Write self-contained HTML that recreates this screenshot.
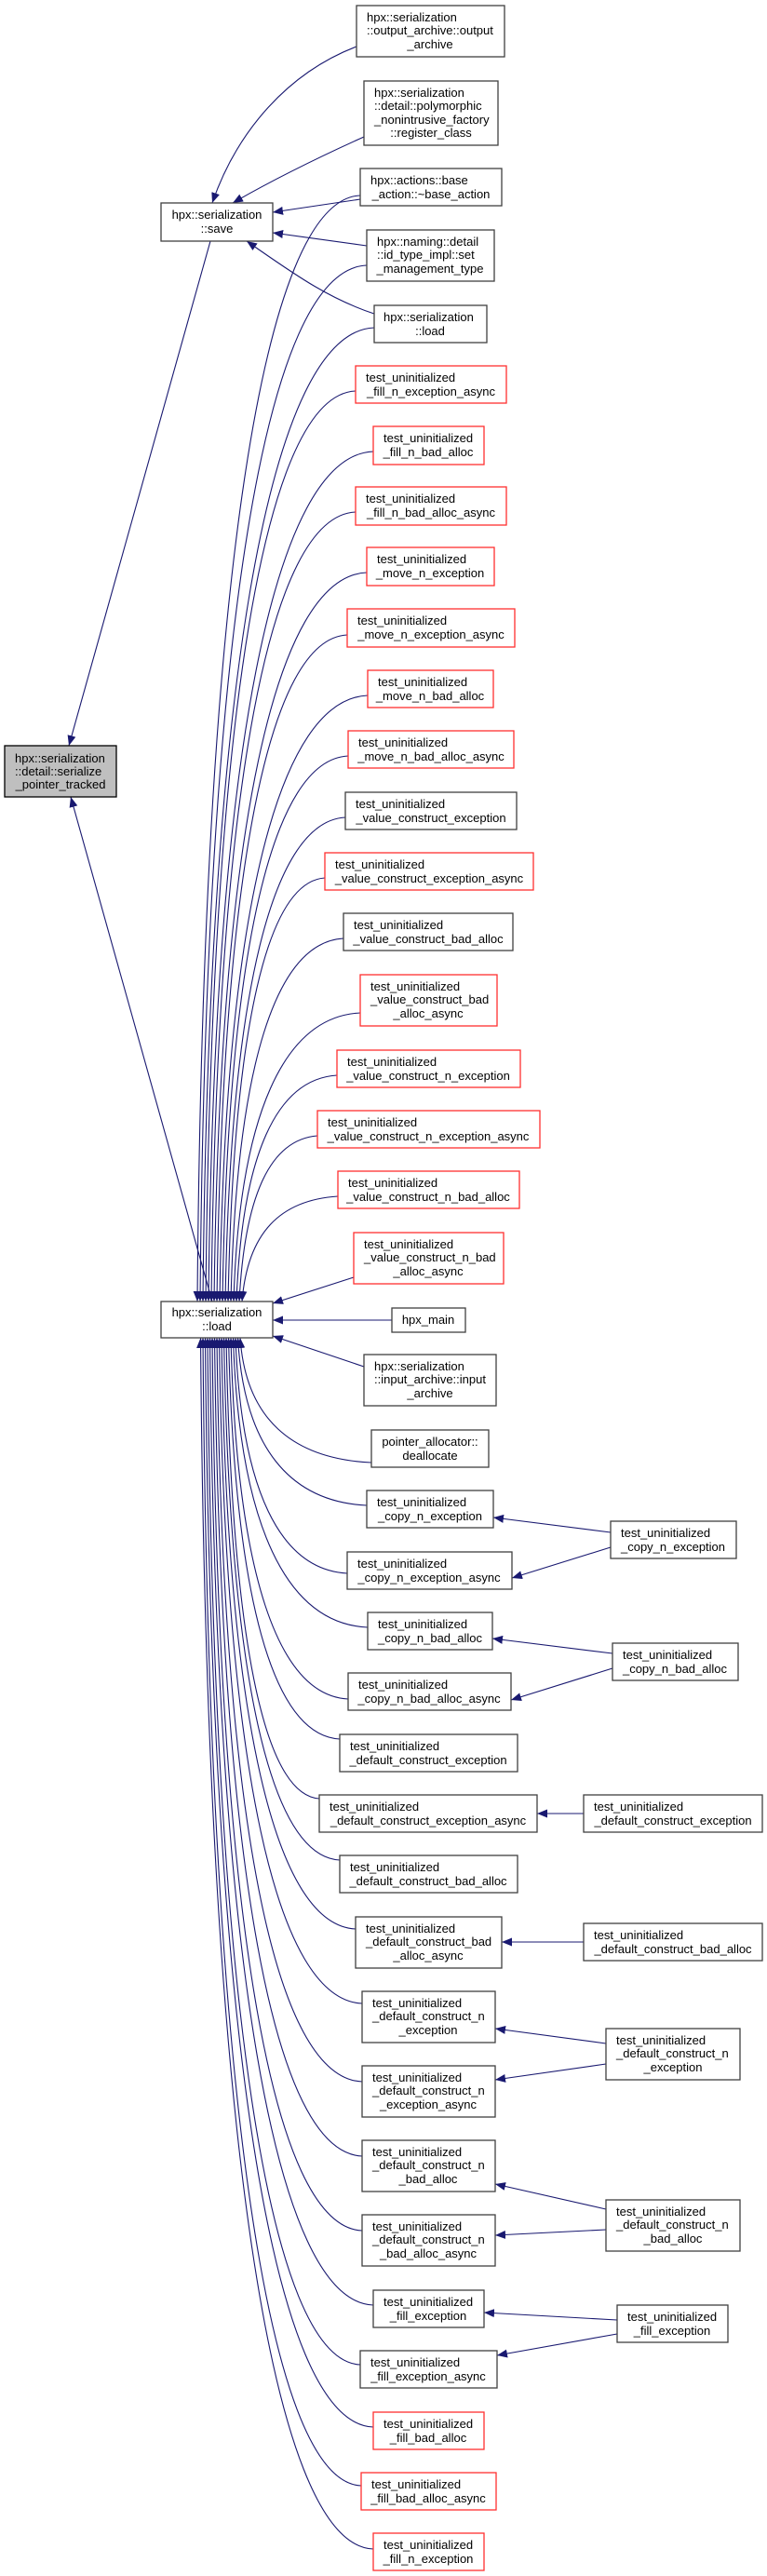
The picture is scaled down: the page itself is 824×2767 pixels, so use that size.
<!DOCTYPE html>
<html><head><meta charset="utf-8"><style>
html,body{margin:0;padding:0;background:#fff;}
svg{display:block;}
text{font-family:"Liberation Sans",Arial,sans-serif;font-size:13px;fill:#000;}
.b{fill:#fff;stroke:#404040;stroke-width:1.3;}
.r{fill:#fff;stroke:#ff3030;stroke-width:1.3;}
.m{fill:#bfbfbf;stroke:#000;stroke-width:1.3;}
.e{fill:none;stroke:#191970;stroke-width:1.1;marker-end:url(#a);}
</style></head><body>
<svg width="824" height="2767" viewBox="0 0 824 2767" xmlns="http://www.w3.org/2000/svg">
<defs><marker id="a" markerUnits="userSpaceOnUse" markerWidth="12" markerHeight="9" refX="11" refY="4.5" orient="auto"><path d="M0,0 L11,4.5 L0,9 z" fill="#191970"/></marker></defs>

<!-- edges to save -->
<path class="e" d="M383,50 C310,78 255,140 228,218"/>
<path class="e" d="M391,147 C340,170 290,195 250,218"/>
<path class="e" d="M387,214 L293,228"/>
<path class="e" d="M394,264 L293,250"/>
<path class="e" d="M402,337 C350,320 310,290 265,259"/>
<!-- to main -->
<path class="e" d="M226,259 L74,801"/>
<path class="e" d="M228,1398 L76,856"/>

<!-- upper callers to load -->
<path class="e" d="M387,210 C282,214 218,626 212,1398"/>
<path class="e" d="M394,285 C285,289 221,675 215,1398"/>
<path class="e" d="M402,352 C292,356 224,718 218,1398"/>
<path class="e" d="M382,420 C285,424 227,762 221,1398"/>
<path class="e" d="M401,485 C295,489 230,805 224,1398"/>
<path class="e" d="M382,550 C289,554 233,847 227,1398"/>
<path class="e" d="M394,615 C296,619 236,889 230,1398"/>
<path class="e" d="M373,682 C289,686 239,932 233,1398"/>
<path class="e" d="M395,747 C300,751 242,975 236,1398"/>
<path class="e" d="M374,812 C293,816 245,1017 239,1398"/>
<path class="e" d="M371,878 C294,882 248,1060 242,1398"/>
<path class="e" d="M349,943 C287,947 251,1102 245,1398"/>
<path class="e" d="M369,1008 C296,1012 254,1145 248,1398"/>
<path class="e" d="M387,1088 C305,1092 257,1197 251,1398"/>
<path class="e" d="M362,1155 C297,1159 260,1240 254,1398"/>
<path class="e" d="M341,1220 C291,1224 263,1282 257,1398"/>
<path class="e" d="M363,1285 C301,1289 266,1324 260,1398"/>
<path class="e" d="M380,1372 L293,1400"/>
<path class="e" d="M421,1418 L293,1418"/>
<path class="e" d="M391,1468 L293,1435"/>

<!-- lower callers to load -->
<path class="e" d="M399,1571 C314,1567 264,1524 258,1437"/>
<path class="e" d="M394,1617 C311,1613 262,1554 255.5,1437"/>
<path class="e" d="M373,1690 C301,1686 259,1601 253,1437"/>
<path class="e" d="M395,1748 C308,1744 257,1639 250.5,1437"/>
<path class="e" d="M374,1825 C298,1821 254,1689 248,1437"/>
<path class="e" d="M365,1868 C293,1864 252,1717 245.5,1437"/>
<path class="e" d="M343,1932 C283,1928 249,1759 243,1437"/>
<path class="e" d="M365,1998 C290,1994 247,1802 240.5,1437"/>
<path class="e" d="M382,2072 C296,2068 244,1850 238,1437"/>
<path class="e" d="M389,2152 C297,2148 242,1902 235.5,1437"/>
<path class="e" d="M389,2236 C295,2232 239,1956 233,1437"/>
<path class="e" d="M389,2316 C294,2312 237,2008 230.5,1437"/>
<path class="e" d="M389,2396 C292,2392 234,2061 228,1437"/>
<path class="e" d="M401,2476 C296,2472 232,2113 225.5,1437"/>
<path class="e" d="M387,2540 C289,2536 229,2154 223,1437"/>
<path class="e" d="M401,2607 C293,2603 227,2197 220.5,1437"/>
<path class="e" d="M388,2670 C286,2666 224,2239 218,1437"/>
<path class="e" d="M401,2738 C290,2734 222,2283 215.5,1437"/>

<!-- right column edges -->
<path class="e" d="M656,1646 L530,1630"/>
<path class="e" d="M656,1662 L550,1695"/>
<path class="e" d="M658,1776 L529,1760"/>
<path class="e" d="M658,1792 L549,1826"/>
<path class="e" d="M627,1948 L577,1948"/>
<path class="e" d="M627,2086 L539,2086"/>
<path class="e" d="M651,2195 L532,2179"/>
<path class="e" d="M651,2217 L532,2234"/>
<path class="e" d="M651,2373 L532,2346"/>
<path class="e" d="M651,2395 L532,2401"/>
<path class="e" d="M663,2492 L520,2484"/>
<path class="e" d="M663,2507 L534,2530"/>

<!-- nodes -->
<rect class="m" x="5" y="801" width="120" height="55"/>
<text x="16" y="819">hpx::serialization</text><text x="16" y="833">::detail::serialize</text><text x="65" y="847" text-anchor="middle">_pointer_tracked</text>

<rect class="b" x="173" y="218" width="120" height="41"/>
<text x="233" y="235" text-anchor="middle">hpx::serialization</text><text x="233" y="250" text-anchor="middle">::save</text>

<rect class="b" x="173" y="1398" width="120" height="39"/>
<text x="233" y="1414" text-anchor="middle">hpx::serialization</text><text x="233" y="1429" text-anchor="middle">::load</text>

<rect class="b" x="383" y="6" width="159" height="55"/>
<text x="394" y="23">hpx::serialization</text><text x="394" y="37">::output_archive::output</text><text x="462" y="52" text-anchor="middle">_archive</text>

<rect class="b" x="391" y="87" width="144" height="69"/>
<text x="402" y="104">hpx::serialization</text><text x="402" y="118">::detail::polymorphic</text><text x="402" y="133">_nonintrusive_factory</text><text x="463" y="147" text-anchor="middle">::register_class</text>

<rect class="b" x="387" y="181" width="152" height="40"/>
<text x="398" y="198">hpx::actions::base</text><text x="463" y="213" text-anchor="middle">_action::~base_action</text>

<rect class="b" x="394" y="247" width="137" height="55"/>
<text x="405" y="264">hpx::naming::detail</text><text x="405" y="278">::id_type_impl::set</text><text x="462" y="293" text-anchor="middle">_management_type</text>

<rect class="b" x="402" y="328" width="121" height="40"/>
<text x="412" y="345">hpx::serialization</text><text x="462" y="360" text-anchor="middle">::load</text>

<rect class="r" x="382" y="393" width="162" height="40"/>
<text x="393" y="410">test_uninitialized</text><text x="463" y="425" text-anchor="middle">_fill_n_exception_async</text>

<rect class="r" x="401" y="458" width="119" height="41"/>
<text x="412" y="475">test_uninitialized</text><text x="460" y="490" text-anchor="middle">_fill_n_bad_alloc</text>

<rect class="r" x="382" y="523" width="162" height="41"/>
<text x="393" y="540">test_uninitialized</text><text x="463" y="555" text-anchor="middle">_fill_n_bad_alloc_async</text>

<rect class="r" x="394" y="588" width="137" height="41"/>
<text x="405" y="605">test_uninitialized</text><text x="462" y="620" text-anchor="middle">_move_n_exception</text>

<rect class="r" x="373" y="654" width="180" height="41"/>
<text x="384" y="671">test_uninitialized</text><text x="463" y="686" text-anchor="middle">_move_n_exception_async</text>

<rect class="r" x="395" y="720" width="135" height="40"/>
<text x="406" y="737">test_uninitialized</text><text x="462" y="752" text-anchor="middle">_move_n_bad_alloc</text>

<rect class="r" x="374" y="785" width="178" height="40"/>
<text x="385" y="802">test_uninitialized</text><text x="463" y="817" text-anchor="middle">_move_n_bad_alloc_async</text>

<rect class="b" x="371" y="851" width="184" height="40"/>
<text x="382" y="868">test_uninitialized</text><text x="463" y="883" text-anchor="middle">_value_construct_exception</text>

<rect class="r" x="349" y="916" width="224" height="40"/>
<text x="360" y="933">test_uninitialized</text><text x="461" y="948" text-anchor="middle">_value_construct_exception_async</text>

<rect class="b" x="369" y="981" width="182" height="40"/>
<text x="380" y="998">test_uninitialized</text><text x="460" y="1013" text-anchor="middle">_value_construct_bad_alloc</text>

<rect class="r" x="387" y="1047" width="147" height="55"/>
<text x="398" y="1064">test_uninitialized</text><text x="398" y="1078">_value_construct_bad</text><text x="460" y="1093" text-anchor="middle">_alloc_async</text>

<rect class="r" x="362" y="1128" width="197" height="40"/>
<text x="373" y="1145">test_uninitialized</text><text x="460" y="1160" text-anchor="middle">_value_construct_n_exception</text>

<rect class="r" x="341" y="1193" width="239" height="40"/>
<text x="352" y="1210">test_uninitialized</text><text x="460" y="1225" text-anchor="middle">_value_construct_n_exception_async</text>

<rect class="r" x="363" y="1258" width="195" height="40"/>
<text x="374" y="1275">test_uninitialized</text><text x="460" y="1290" text-anchor="middle">_value_construct_n_bad_alloc</text>

<rect class="r" x="380" y="1324" width="161" height="55"/>
<text x="391" y="1341">test_uninitialized</text><text x="391" y="1355">_value_construct_n_bad</text><text x="460" y="1370" text-anchor="middle">_alloc_async</text>

<rect class="b" x="421" y="1405" width="79" height="26"/>
<text x="460" y="1422" text-anchor="middle">hpx_main</text>

<rect class="b" x="391" y="1455" width="142" height="55"/>
<text x="402" y="1472">hpx::serialization</text><text x="402" y="1486">::input_archive::input</text><text x="462" y="1501" text-anchor="middle">_archive</text>

<rect class="b" x="399" y="1536" width="126" height="40"/>
<text x="462" y="1553" text-anchor="middle">pointer_allocator::</text><text x="462" y="1568" text-anchor="middle">deallocate</text>

<rect class="b" x="394" y="1601" width="136" height="40"/>
<text x="405" y="1618">test_uninitialized</text><text x="462" y="1633" text-anchor="middle">_copy_n_exception</text>

<rect class="b" x="373" y="1667" width="177" height="40"/>
<text x="384" y="1684">test_uninitialized</text><text x="461" y="1699" text-anchor="middle">_copy_n_exception_async</text>

<rect class="b" x="395" y="1732" width="134" height="40"/>
<text x="406" y="1749">test_uninitialized</text><text x="462" y="1764" text-anchor="middle">_copy_n_bad_alloc</text>

<rect class="b" x="374" y="1797" width="175" height="40"/>
<text x="385" y="1814">test_uninitialized</text><text x="461" y="1829" text-anchor="middle">_copy_n_bad_alloc_async</text>

<rect class="b" x="656" y="1634" width="135" height="40"/>
<text x="667" y="1651">test_uninitialized</text><text x="723" y="1666" text-anchor="middle">_copy_n_exception</text>

<rect class="b" x="658" y="1765" width="135" height="40"/>
<text x="669" y="1782">test_uninitialized</text><text x="725" y="1797" text-anchor="middle">_copy_n_bad_alloc</text>

<rect class="b" x="365" y="1863" width="191" height="40"/>
<text x="376" y="1880">test_uninitialized</text><text x="460" y="1895" text-anchor="middle">_default_construct_exception</text>

<rect class="b" x="343" y="1928" width="234" height="40"/>
<text x="354" y="1945">test_uninitialized</text><text x="460" y="1960" text-anchor="middle">_default_construct_exception_async</text>

<rect class="b" x="627" y="1928" width="192" height="40"/>
<text x="638" y="1945">test_uninitialized</text><text x="723" y="1960" text-anchor="middle">_default_construct_exception</text>

<rect class="b" x="365" y="1993" width="191" height="40"/>
<text x="376" y="2010">test_uninitialized</text><text x="460" y="2025" text-anchor="middle">_default_construct_bad_alloc</text>

<rect class="b" x="382" y="2059" width="157" height="55"/>
<text x="393" y="2076">test_uninitialized</text><text x="393" y="2090">_default_construct_bad</text><text x="460" y="2105" text-anchor="middle">_alloc_async</text>

<rect class="b" x="627" y="2066" width="192" height="40"/>
<text x="638" y="2083">test_uninitialized</text><text x="723" y="2098" text-anchor="middle">_default_construct_bad_alloc</text>

<rect class="b" x="389" y="2139" width="143" height="55"/>
<text x="400" y="2156">test_uninitialized</text><text x="400" y="2170">_default_construct_n</text><text x="460" y="2185" text-anchor="middle">_exception</text>

<rect class="b" x="389" y="2219" width="143" height="55"/>
<text x="400" y="2236">test_uninitialized</text><text x="400" y="2250">_default_construct_n</text><text x="460" y="2265" text-anchor="middle">_exception_async</text>

<rect class="b" x="389" y="2299" width="143" height="55"/>
<text x="400" y="2316">test_uninitialized</text><text x="400" y="2330">_default_construct_n</text><text x="460" y="2345" text-anchor="middle">_bad_alloc</text>

<rect class="b" x="389" y="2379" width="143" height="55"/>
<text x="400" y="2396">test_uninitialized</text><text x="400" y="2410">_default_construct_n</text><text x="460" y="2425" text-anchor="middle">_bad_alloc_async</text>

<rect class="b" x="651" y="2179" width="144" height="55"/>
<text x="662" y="2196">test_uninitialized</text><text x="662" y="2210">_default_construct_n</text><text x="723" y="2225" text-anchor="middle">_exception</text>

<rect class="b" x="651" y="2363" width="144" height="55"/>
<text x="662" y="2380">test_uninitialized</text><text x="662" y="2394">_default_construct_n</text><text x="723" y="2409" text-anchor="middle">_bad_alloc</text>

<rect class="b" x="401" y="2460" width="119" height="40"/>
<text x="412" y="2477">test_uninitialized</text><text x="460" y="2492" text-anchor="middle">_fill_exception</text>

<rect class="b" x="387" y="2525" width="147" height="40"/>
<text x="398" y="2542">test_uninitialized</text><text x="460" y="2557" text-anchor="middle">_fill_exception_async</text>

<rect class="b" x="663" y="2476" width="119" height="40"/>
<text x="674" y="2493">test_uninitialized</text><text x="722" y="2508" text-anchor="middle">_fill_exception</text>

<rect class="r" x="401" y="2591" width="119" height="40"/>
<text x="412" y="2608">test_uninitialized</text><text x="460" y="2623" text-anchor="middle">_fill_bad_alloc</text>

<rect class="r" x="388" y="2656" width="145" height="40"/>
<text x="399" y="2673">test_uninitialized</text><text x="460" y="2688" text-anchor="middle">_fill_bad_alloc_async</text>

<rect class="r" x="401" y="2721" width="119" height="40"/>
<text x="412" y="2738">test_uninitialized</text><text x="460" y="2753" text-anchor="middle">_fill_n_exception</text>
</svg>
</body></html>
